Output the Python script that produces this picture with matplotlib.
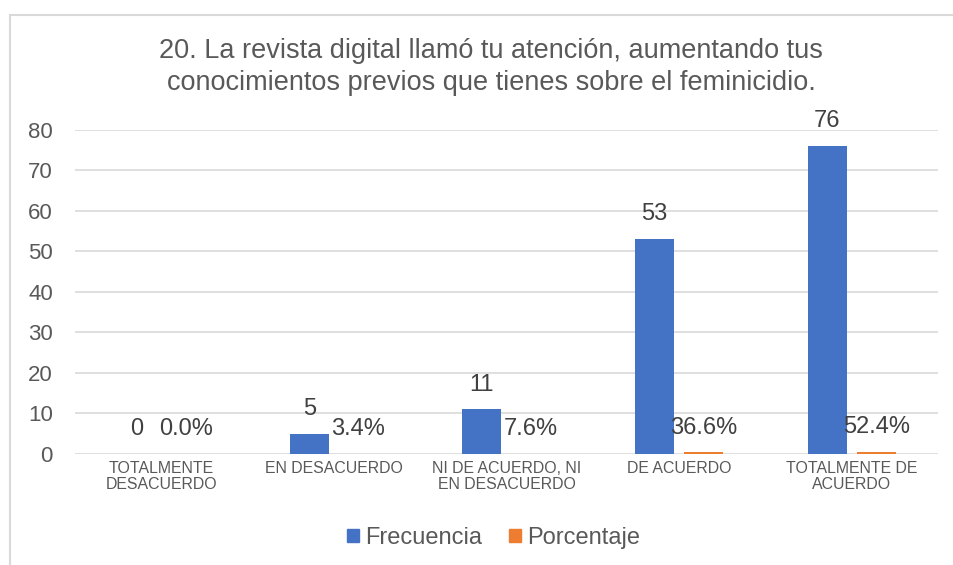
import numpy as np
import matplotlib.pyplot as plt
from matplotlib.patches import Rectangle, Patch

plt.rcParams['font.family'] = ['Liberation Sans', 'DejaVu Sans']

# Data
categories = ["TOTALMENTE\nDESACUERDO", "EN DESACUERDO", "NI DE ACUERDO, NI\nEN DESACUERDO",
              "DE ACUERDO", "TOTALMENTE DE\nACUERDO"]
frecuencia = [0, 5, 11, 53, 76]
porcentaje = [0.0, 0.034, 0.076, 0.366, 0.524]

title = ("20. La revista digital llamó tu atención, aumentando tus\n"
         "conocimientos previos que tienes sobre el feminicidio.")

blue = "#4472C4"
orange = "#ED7D31"
text_c = "#595959"
grid_c = "#D9D9D9"

fig = plt.figure(figsize=(9.54, 5.65), dpi=100)
ax = fig.add_axes([0.0786, 0.1965, 0.9046, 0.5735])

# chart frame (runs past the right and bottom edges)
fig.patches.append(Rectangle((10 / 954, -0.05), 1.1, 1 - 15 / 565 + 0.05,
                             transform=fig.transFigure, fill=False,
                             edgecolor=grid_c, linewidth=1.5))

x = np.arange(len(categories))
w = 0.226
off = 0.142
ax.bar(x - off, frecuencia, w, color=blue, zorder=3)
ax.bar(x + off, porcentaje, w, color=orange, zorder=3)

for xi, v in zip(x, frecuencia):
    ax.annotate(f"{v}", (xi - off, v), xytext=(0, 10), textcoords="offset points",
                ha="center", va="bottom", fontsize=17, color="#404040")
for xi, v in zip(x, porcentaje):
    ax.annotate(f"{v * 100:.1f}%", (xi + off, v), xytext=(0, 10), textcoords="offset points",
                ha="center", va="bottom", fontsize=17, color="#404040")

ax.set_xlim(-0.5, 4.5)
ax.set_ylim(0, 80)
ax.set_yticks(range(0, 81, 10))
ax.set_xticks(x)
ax.set_xticklabels(categories, fontsize=11.4, color=text_c, linespacing=1.05)
ax.tick_params(axis="y", length=0, pad=16, labelsize=16, labelcolor=text_c)
ax.tick_params(axis="x", length=0, pad=5)
ax.grid(axis="y", color=grid_c, linewidth=1.2, zorder=0)
for s in ax.spines.values():
    s.set_visible(False)

fig.text(0.515, 1 - 67 / 565, title, ha="center", va="center", fontsize=19.5,
         color=text_c, linespacing=1.25)

handles = [Patch(color=blue, label="Frecuencia"), Patch(color=orange, label="Porcentaje")]
fig.legend(handles=handles, loc="center", bbox_to_anchor=(493.5 / 954, 1 - 538 / 565), ncol=2,
           frameon=False, fontsize=17, labelcolor=text_c, handlelength=0.5, handleheight=0.5,
           handletextpad=0.25, columnspacing=1.15)

fig.savefig("out.png", dpi=100)
